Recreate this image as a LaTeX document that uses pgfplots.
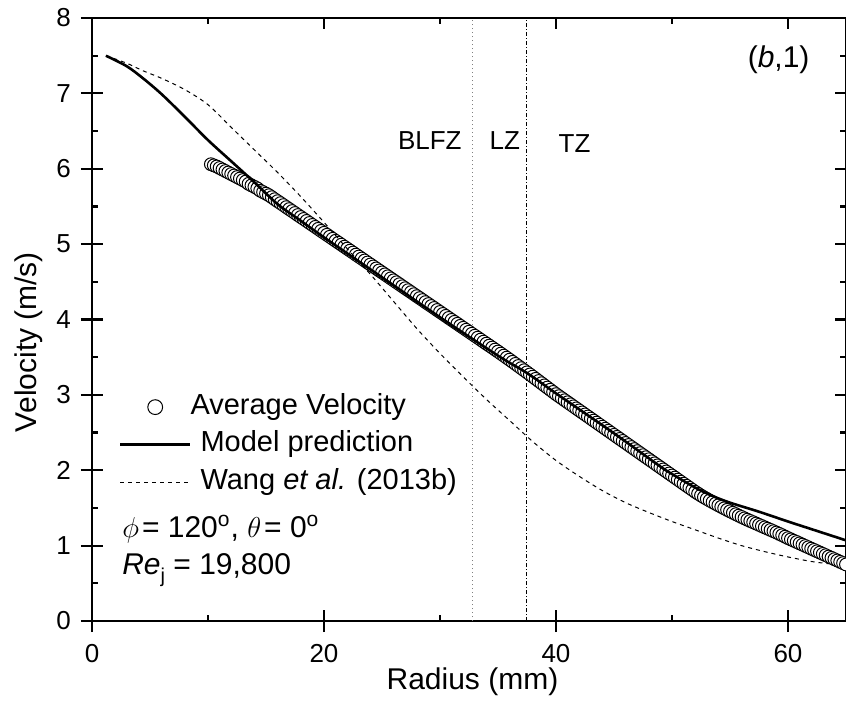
\documentclass[border=0pt]{standalone}
\usepackage{fontspec}
\setmainfont{Liberation Sans}
\usepackage{pgfplots}
\pgfplotsset{compat=1.18}
\pgfplotsset{
  linelegend/.style={legend image code/.code={\draw[##1] (0pt,0pt) -- (35pt,0pt);}},
  marklegend/.style={legend image code/.code={\draw[mark repeat=2,mark phase=2,##1,mark size=3.7pt] plot coordinates {(0pt,0pt) (17.5pt,0pt) (35pt,0pt)};}},
  common/.style={
    scale only axis, width=377pt, height=301.5pt,
    xmin=0, xmax=65, ymin=0, ymax=8,
    xtick={0,20,40,60}, ytick={0,1,2,3,4,5,6,7,8},
    axis line style={line width=1.1pt},
    every tick/.style={line width=1.1pt, black},
    every minor tick/.style={line width=1.1pt, black},
  }
}
\begin{document}
\begin{tikzpicture}
\path[use as bounding box] (-46pt,-51.5pt) rectangle (377pt,310.5pt);
\begin{axis}[common, tick align=inside, xtick pos=both, ytick pos=both,
  major tick length=5.5pt, minor tick length=3pt,
  minor x tick num=1, minor y tick num=1,
  xticklabels={}, yticklabels={}]
\end{axis}
\begin{axis}[common, tick align=center, major tick length=11pt,
  xtick pos=left, ytick pos=left, minor tick num=0,
  clip marker paths=true,
  /pgf/number format/assume math mode=true,
  tick label style={font=\fontsize{13}{15}\selectfont},
  xticklabel style={anchor=north, yshift=-2.5pt},
  yticklabel style={anchor=east, xshift=-1.5pt},
  xlabel={Radius (mm)}, ylabel={Velocity (m/s)},
  label style={font=\fontsize{15}{18}\selectfont},
  xlabel style={at={(axis description cs:0.5046,-0.1144)}, anchor=base},
  ylabel style={at={(axis description cs:-0.0557,0.4627)}, anchor=south},
  legend style={draw=none, fill=none, inner sep=0pt, outer sep=0pt,
    at={(axis cs:2.32,2.34)}, anchor=west, column sep=4.5pt,
    font=\fontsize{14.5}{17}\selectfont,
    nodes={inner sep=0pt, text height=13pt, text depth=5.75pt}},
  legend cell align=left,
]
% zone boundaries
\addplot[gray, line width=0.6pt, dash pattern=on 0.6pt off 1.4pt, forget plot] coordinates {(32.8,0) (32.8,8)};
\addplot[black, line width=0.5pt, dash pattern=on 2pt off 1pt on 0.5pt off 1pt, forget plot] coordinates {(37.5,0) (37.5,8)};
% Average velocity (circles)
\addplot[only marks, mark=*, mark size=3.2pt, mark options={fill=white, draw=black, line width=0.5pt}, marklegend]
coordinates {
(10.25,6.060) (10.5,6.045) (10.75,6.030) (11,6.010) (11.25,5.990) (11.5,5.970) (11.75,5.950) (12,5.930)
(12.25,5.910) (12.5,5.890) (12.75,5.870) (13,5.850) (13.25,5.830) (13.5,5.800) (13.75,5.780) (14,5.760)
(14.25,5.740) (14.5,5.710) (14.75,5.690) (15,5.670) (15.25,5.649) (15.5,5.623) (15.75,5.596) (16,5.570)
(16.25,5.544) (16.5,5.518) (16.75,5.491) (17,5.465) (17.25,5.439) (17.5,5.413) (17.75,5.386) (18,5.360)
(18.25,5.334) (18.5,5.308) (18.75,5.281) (19,5.255) (19.25,5.229) (19.5,5.203) (19.75,5.176) (20,5.150)
(20.25,5.124) (20.5,5.098) (20.75,5.071) (21,5.045) (21.25,5.019) (21.5,4.993) (21.75,4.966) (22,4.940)
(22.25,4.914) (22.5,4.888) (22.75,4.861) (23,4.835) (23.25,4.809) (23.5,4.783) (23.75,4.756) (24,4.730)
(24.25,4.704) (24.5,4.678) (24.75,4.651) (25,4.625) (25.25,4.599) (25.5,4.573) (25.75,4.546) (26,4.520)
(26.25,4.494) (26.5,4.468) (26.75,4.441) (27,4.415) (27.25,4.389) (27.5,4.363) (27.75,4.336) (28,4.310)
(28.25,4.284) (28.5,4.258) (28.75,4.231) (29,4.205) (29.25,4.179) (29.5,4.153) (29.75,4.126) (30,4.100)
(30.25,4.074) (30.5,4.048) (30.75,4.021) (31,3.995) (31.25,3.969) (31.5,3.943) (31.75,3.916) (32,3.890)
(32.25,3.864) (32.5,3.838) (32.75,3.811) (33,3.785) (33.25,3.759) (33.5,3.733) (33.75,3.706) (34,3.680)
(34.25,3.654) (34.5,3.628) (34.75,3.601) (35,3.575) (35.25,3.548) (35.5,3.521) (35.75,3.494) (36,3.467)
(36.25,3.439) (36.5,3.411) (36.75,3.383) (37,3.355) (37.25,3.327) (37.5,3.299) (37.75,3.271) (38,3.242)
(38.25,3.213) (38.5,3.184) (38.75,3.155) (39,3.126) (39.25,3.097) (39.5,3.068) (39.75,3.039) (40,3.010)
(40.25,2.983) (40.5,2.956) (40.75,2.929) (41,2.902) (41.25,2.875) (41.5,2.848) (41.75,2.821) (42,2.794)
(42.25,2.767) (42.5,2.740) (42.75,2.713) (43,2.686) (43.25,2.659) (43.5,2.632) (43.75,2.605) (44,2.578)
(44.25,2.551) (44.5,2.524) (44.75,2.497) (45,2.470) (45.25,2.443) (45.5,2.416) (45.75,2.389) (46,2.362)
(46.25,2.335) (46.5,2.308) (46.75,2.281) (47,2.254) (47.25,2.227) (47.5,2.200) (47.75,2.173) (48,2.146)
(48.25,2.119) (48.5,2.092) (48.75,2.065) (49,2.038) (49.25,2.011) (49.5,1.984) (49.75,1.957) (50,1.930)
(50.25,1.903) (50.5,1.876) (50.75,1.849) (51,1.822) (51.25,1.795) (51.5,1.768) (51.75,1.741) (52,1.714)
(52.25,1.689) (52.5,1.665) (52.75,1.642) (53,1.620) (53.25,1.598) (53.5,1.577) (53.75,1.556) (54,1.535)
(54.25,1.515) (54.5,1.495) (54.75,1.475) (55,1.455) (55.25,1.436) (55.5,1.417) (55.75,1.398) (56,1.380)
(56.25,1.362) (56.5,1.344) (56.75,1.327) (57,1.310) (57.25,1.293) (57.5,1.276) (57.75,1.259) (58,1.242)
(58.25,1.225) (58.5,1.208) (58.75,1.191) (59,1.174) (59.25,1.156) (59.5,1.138) (59.75,1.119) (60,1.100)
(60.25,1.083) (60.5,1.065) (60.75,1.048) (61,1.030) (61.25,1.013) (61.5,0.995) (61.75,0.978) (62,0.960)
(62.25,0.943) (62.5,0.925) (62.75,0.908) (63,0.890) (63.25,0.873) (63.5,0.855) (63.75,0.838) (64,0.820)
(64.25,0.803) (64.5,0.785) (64.75,0.768) (65,0.750)
};
\addlegendentry{\hspace*{-5pt}Average Velocity}
% Model prediction
\addplot[black, line width=1.3pt, smooth, linelegend]
coordinates {
(1.2,7.50) (3,7.36) (4.4,7.20) (6,6.99) (8,6.69) (10,6.38) (12,6.10) (14,5.82)
(16,5.53) (18,5.31) (20,5.09) (25,4.56) (30,4.03) (35,3.52) (37.5,3.29) (40,3.02)
(45,2.49) (48.9,2.06) (50,1.95) (52,1.77) (53.4,1.665) (55,1.57) (57.5,1.45) (60,1.32) (62,1.22) (65,1.07)
};
\addlegendentry{Model prediction}
% Wang et al.
\addplot[black, line width=0.5pt, dash pattern=on 2pt off 2pt, smooth, linelegend]
coordinates {
(1.2,7.50) (3,7.40) (4.4,7.30) (6,7.20) (8,7.05) (10,6.85) (12,6.55) (14,6.25)
(16,5.95) (18,5.63) (20,5.29) (22,4.94) (24,4.60) (26,4.24) (28,3.88) (30,3.55)
(32,3.24) (34,2.94) (36,2.66) (38,2.38) (40,2.13) (42,1.92) (44,1.73) (46,1.57)
(48,1.44) (50,1.32) (52,1.21) (54,1.10) (56,1.00) (58,0.92) (60,0.85) (62,0.79) (63.5,0.76)
};
\addlegendentry{Wang \textit{et al.} (2013b)}
% annotations
\node[anchor=base west, inner sep=0pt, font=\fontsize{15}{18}\selectfont] at (axis cs:2.58,1.114) {$\phi$\hspace{1.5pt}= 120\textsuperscript{o}, $\theta$\hspace{1.5pt}= 0\textsuperscript{o}};
\node[anchor=base west, inner sep=0pt, font=\fontsize{15}{18}\selectfont] at (axis cs:2.58,0.623) {\textit{Re}\raisebox{-4pt}{\fontsize{10}{12}\selectfont j} = 19,800};
\node[anchor=base west, inner sep=0pt, font=\fontsize{15}{18}\selectfont] at (axis cs:56.5,7.35) {(\textit{b},1)};
\node[anchor=base west, inner sep=0pt, font=\fontsize{13}{15}\selectfont] at (axis cs:26.35,6.25) {BLFZ};
\node[anchor=base west, inner sep=0pt, font=\fontsize{13}{15}\selectfont] at (axis cs:34.25,6.25) {LZ};
\node[anchor=base west, inner sep=0pt, font=\fontsize{13}{15}\selectfont] at (axis cs:40.2,6.21) {TZ};
\end{axis}
\end{tikzpicture}
\end{document}
